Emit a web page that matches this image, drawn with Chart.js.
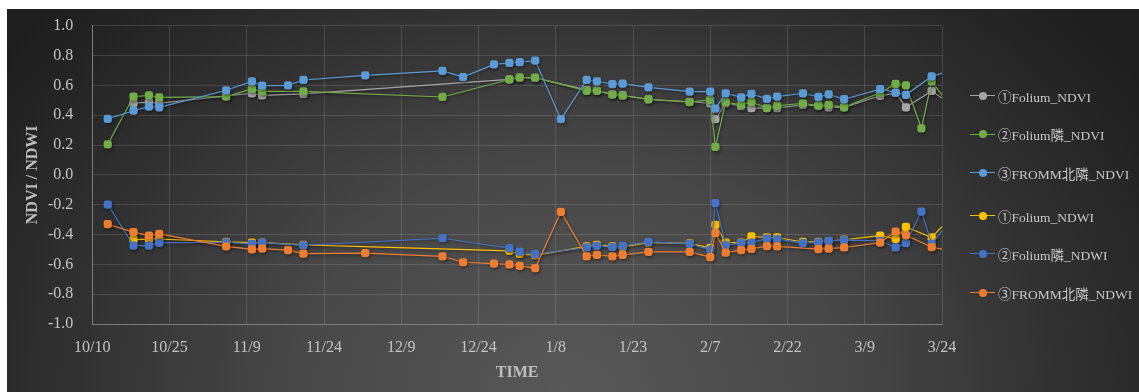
<!DOCTYPE html>
<html>
<head>
<meta charset="utf-8">
<script src="https://cdn.jsdelivr.net/npm/chart.js@4.4.1/dist/chart.umd.min.js"></script>
<style>
  html, body { margin: 0; padding: 0; background: #ffffff; width: 1139px; height: 392px; overflow: hidden; }
  #frame {
    position: absolute; left: 7px; top: 9px; width: 1132px; height: 383px;
    background: radial-gradient(ellipse 700px 560px at 560px 380px, #585858 0%, #474747 40%, #303030 72%, #1e1e1e 100%);
  }
  #chart { position: absolute; left: 0; top: 0; }
  #legend { position: absolute; left: 963px; top: 0; width: 169px; height: 383px; }
  .item {
    position: absolute; left: 0; height: 20px; display: flex; align-items: center;
    font: 13.5px "Liberation Serif", "Noto Sans CJK JP", serif; color: #c8c8c8; white-space: nowrap;
  }
  .sym { position: relative; width: 25px; height: 10px; margin-right: 3px; flex: none; }
  .sym i { position: absolute; left: 0; right: 0; top: 4.4px; height: 1.3px; }
  .sym b { position: absolute; left: 8.5px; top: 1px; width: 8px; height: 8px; border-radius: 50%; }
</style>
</head>
<body>
<div id="frame">
  <canvas id="chart" width="1132" height="383"></canvas>
  <div id="legend"></div>
</div>
<script>
// Observation dates (month/day, season running from October into March)
const dates = [
  '10/13','10/18','10/21','10/23','11/5','11/10','11/12','11/17','11/20','12/2',
  '12/17','12/21','12/27','12/30','1/1','1/4','1/9','1/14','1/16','1/19',
  '1/21','1/26','2/3','2/7','2/8','2/10','2/13','2/15','2/18','2/20',
  '2/25','2/28','3/2','3/5','3/12','3/15','3/17','3/20','3/22','3/25'
];

// Series values, aligned with `dates` (null = no observation on that day)
const foliumNDVI = [
  null, 0.48, 0.487, 0.48, 0.53, 0.547, 0.533, null, 0.543, null,
  null, null, null, 0.64, 0.65, 0.65, null, 0.57, 0.565, 0.54,
  0.535, 0.505, 0.49, 0.48, 0.373, 0.48, 0.46, 0.447, 0.447, 0.447,
  0.469, 0.462, 0.453, 0.453, 0.53, 0.55, 0.453, null, 0.563, 0.49
];
const foliumNeighborNDVI = [
  0.205, 0.524, 0.533, 0.52, 0.524, 0.576, 0.56, null, 0.56, null,
  0.522, null, null, 0.639, 0.654, 0.652, null, 0.563, 0.563, 0.538,
  0.531, 0.507, 0.487, 0.502, 0.187, 0.487, 0.469, 0.487, 0.447, 0.462,
  0.48, 0.464, 0.469, 0.453, 0.55, 0.61, 0.6, 0.312, 0.627, 0.49
];
const frommNorthNDVI = [
  0.375, 0.43, 0.457, 0.453, 0.567, 0.627, 0.598, 0.6, 0.636, 0.667,
  0.697, 0.656, 0.741, 0.75, 0.755, 0.766, 0.373, 0.636, 0.627, 0.609,
  0.612, 0.587, 0.558, 0.558, 0.444, 0.547, 0.52, 0.543, 0.509, 0.524,
  0.547, 0.522, 0.54, 0.507, 0.575, 0.552, 0.537, null, 0.66, 0.69
];
const foliumNDWI = [
  null, -0.436, -0.43, -0.43, -0.45, -0.455, -0.455, null, -0.47, null,
  null, null, null, -0.51, -0.53, -0.54, null, -0.48, -0.47, -0.48,
  -0.485, -0.455, -0.46, -0.49, -0.335, -0.454, -0.455, -0.413, -0.42, -0.42,
  -0.45, -0.45, -0.445, -0.435, -0.407, -0.429, -0.349, null, -0.42, -0.31
];
const foliumNeighborNDWI = [
  -0.199, -0.474, -0.474, -0.456, -0.452, -0.463, -0.454, null, -0.472, null,
  -0.425, null, null, -0.492, -0.514, -0.532, null, -0.487, -0.476, -0.485,
  -0.476, -0.449, -0.463, -0.502, -0.19, -0.472, -0.458, -0.454, -0.427, -0.431,
  -0.458, -0.452, -0.443, -0.438, -0.442, -0.487, -0.458, -0.246, -0.463, -0.33
];
const frommNorthNDWI = [
  -0.331, -0.384, -0.407, -0.396, -0.48, -0.5, -0.494, -0.505, -0.528, -0.525,
  -0.546, -0.586, -0.595, -0.601, -0.61, -0.626, -0.248, -0.546, -0.536, -0.546,
  -0.536, -0.516, -0.516, -0.552, -0.391, -0.521, -0.505, -0.496, -0.478, -0.48,
  null, -0.498, -0.494, -0.487, -0.454, -0.38, -0.404, null, -0.485, -0.505
];

// Axis tick labels (every 15 days from 10/10)
const xTickLabels = ['10/10','10/25','11/9','11/24','12/9','12/24','1/8','1/23','2/7','2/22','3/9','3/24'];
const seriesNames = ['①Folium_NDVI','②Folium隣_NDVI','③FROMM北隣_NDVI','①Folium_NDWI','②Folium隣_NDWI','③FROMM北隣_NDWI'];
const seriesColors = ['#A5A5A5','#70AD47','#5B9BD5','#FFC000','#4472C4','#ED7D31'];
const seriesValues = [foliumNDVI, foliumNeighborNDVI, frommNorthNDVI, foliumNDWI, foliumNeighborNDWI, frommNorthNDWI];

// days elapsed since 10/10 (autumn in one year, Jan-Mar in the next)
function dayOffset(md) {
  const [m, d] = md.split('/').map(Number);
  const y = m >= 10 ? 2020 : 2021;
  return Math.round((Date.UTC(y, m - 1, d) - Date.UTC(2020, 9, 10)) / 86400000);
}

const serif = '"Liberation Serif", "Noto Sans CJK JP", serif';
const gridColor = 'rgba(255,255,255,0.13)';
const axisColor = '#7c7c7c';

const datasets = seriesValues.map((vals, s) => ({
  label: seriesNames[s],
  data: dates.map((d, i) => ({ x: dayOffset(d), y: vals[i] })).filter(p => p.y !== null),
  borderColor: seriesColors[s],
  backgroundColor: seriesColors[s],
  borderWidth: 1.2,
  pointStyle: 'rectRounded',
  pointRadius: 4.8,
  pointBorderWidth: 0,
  pointBackgroundColor: seriesColors[s],
  tension: 0,
  order: seriesValues.length - s
}));

// soft drop shadow under the series
const markerShadow = {
  id: 'markerShadow',
  beforeDatasetsDraw(chart) {
    const ctx = chart.ctx;
    ctx.save();
    ctx.shadowColor = 'rgba(0,0,0,0.45)';
    ctx.shadowBlur = 3;
    ctx.shadowOffsetX = 1;
    ctx.shadowOffsetY = 1.5;
  },
  afterDatasetsDraw(chart) { chart.ctx.restore(); }
};

new Chart(document.getElementById('chart'), {
  type: 'line',
  data: { datasets },
  plugins: [markerShadow],
  options: {
    responsive: false,
    animation: false,
    events: [],
    layout: { padding: { left: 0, right: 197, top: 16.7, bottom: 0 } },
    plugins: { legend: { display: false }, tooltip: { enabled: false } },
    scales: {
      x: {
        type: 'linear',
        min: 0, max: 165,
        afterFit(scale) { scale.height = 68; },
        ticks: {
          stepSize: 15, autoSkip: false, maxRotation: 0, padding: 14,
          color: '#c4c4c4', font: { family: serif, size: 16 },
          callback: v => xTickLabels[Math.round(v / 15)]
        },
        grid: { color: gridColor, drawTicks: false },
        border: { color: axisColor, width: 1 },
        title: {
          display: true, text: 'TIME', color: '#bdbdbd',
          font: { family: serif, size: 16, weight: 'bold' },
          padding: { top: 0, bottom: 10 }
        }
      },
      y: {
        min: -1, max: 1,
        afterFit(scale) { scale.width = 85.3; },
        ticks: {
          stepSize: 0.2, padding: 6,
          color: '#c4c4c4', font: { family: serif, size: 16 },
          callback: v => (Math.abs(v) < 1e-9 ? 0 : v).toFixed(1)
        },
        grid: { color: gridColor, drawTicks: true, tickLength: 13, tickColor: 'rgba(0,0,0,0)' },
        border: { color: axisColor, width: 1 },
        title: {
          display: true, text: 'NDVI / NDWI', color: '#bdbdbd',
          font: { family: serif, size: 16, weight: 'bold' },
          padding: { top: 16.4, bottom: 0 }
        }
      }
    }
  }
});

// legend: line-and-dot symbol followed by the series name
const legend = document.getElementById('legend');
const legendCenters = [86.7, 125.2, 163.7, 206.7, 244.7, 283.7];
seriesNames.forEach((name, s) => {
  const item = document.createElement('div');
  item.className = 'item';
  item.style.top = (legendCenters[s] - 10) + 'px';
  item.innerHTML = '<span class="sym"><i style="background:' + seriesColors[s] + '"></i><b style="background:' + seriesColors[s] + '"></b></span><span></span>';
  item.lastChild.textContent = name;
  legend.appendChild(item);
});
</script>
</body>
</html>
